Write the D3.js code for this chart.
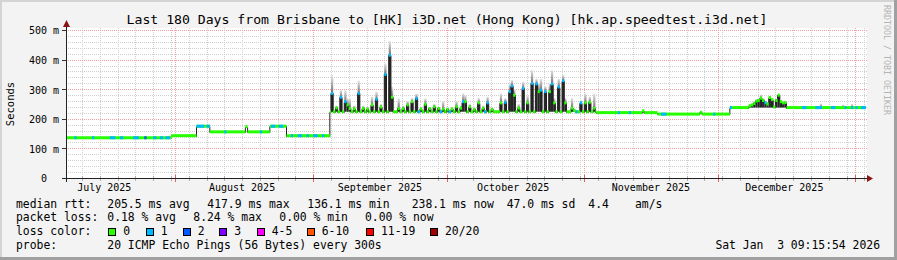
<!DOCTYPE html>
<html>
<head>
<meta charset="utf-8">
<script src="https://cdn.jsdelivr.net/npm/d3@7"></script>
<style>
body { margin: 0; background: #f3f3f3; }
text { font-family: "DejaVu Sans Mono", monospace; white-space: pre; }
</style>
</head>
<body>
<script>
// ---- data ----
const title = 'Last 180 Days from Brisbane to [HK] i3D.net (Hong Kong) [hk.ap.speedtest.i3d.net]';
const yTicks = [0, 100, 200, 300, 400, 500];
const yLabels = ['0', '100 m', '200 m', '300 m', '400 m', '500 m'];
const monthLabels = ['July 2025', 'August 2025', 'September 2025', 'October 2025', 'November 2025', 'December 2025'];
const monthLabelDates = ['2025-07-16 00', '2025-08-16 00', '2025-09-16 00', '2025-10-16 00', '2025-11-16 00', '2025-12-16 00'];

// baseline median steps [from, to, ms]
const levels = [
  ['2025-07-07 09', '2025-07-31 00', 136],
  ['2025-07-31 00', '2025-08-05 18', 143],
  ['2025-08-05 18', '2025-08-08 18', 175],
  ['2025-08-08 18', '2025-08-16 18', 156],
  ['2025-08-16 18', '2025-08-17 06', 174],
  ['2025-08-17 06', '2025-08-22 06', 156],
  ['2025-08-22 06', '2025-08-26 00', 175],
  ['2025-08-26 00', '2025-09-04 18', 143],
  ['2025-09-04 18', '2025-11-03 18', 224],
  ['2025-11-03 18', '2025-11-17 12', 221],
  ['2025-11-17 12', '2025-12-03 18', 216],
  ['2025-12-03 18', '2026-01-03 09', 238]
];

// 12h samples that leave the baseline [time, median ms, max ping ms, lost pings bucket]
const spikes = [
  ['2025-09-05 00', 286, 348, 1], ['2025-09-06 00', 237, 245, 0], ['2025-09-07 00', 273, 297, 1],
  ['2025-09-08 00', 258, 297, 1], ['2025-09-08 12', 247, 269, 0], ['2025-09-09 00', 235, 269, 0],
  ['2025-09-10 00', 234, 245, 0], ['2025-09-11 00', 286, 329, 1], ['2025-09-12 00', 235, 245, 0],
  ['2025-09-13 00', 233, 240, 0], ['2025-09-14 00', 247, 275, 0], ['2025-09-15 00', 266, 292, 1],
  ['2025-09-16 00', 240, 250, 0], ['2025-09-17 00', 350, 387, 1], ['2025-09-18 00', 415, 463, 1],
  ['2025-09-18 12', 273, 308, 0], ['2025-09-20 00', 235, 269, 0], ['2025-09-21 00', 235, 245, 0],
  ['2025-09-22 00', 247, 260, 0], ['2025-09-23 00', 258, 270, 0], ['2025-09-24 00', 269, 285, 1],
  ['2025-09-25 00', 233, 240, 0], ['2025-09-26 00', 249, 269, 0], ['2025-09-27 00', 235, 240, 0],
  ['2025-09-28 00', 241, 250, 0], ['2025-09-29 00', 235, 240, 0], ['2025-09-30 00', 233, 260, 0],
  ['2025-10-01 00', 232, 238, 0], ['2025-10-02 00', 233, 240, 0], ['2025-10-03 00', 241, 260, 0],
  ['2025-10-04 00', 236, 245, 0], ['2025-10-04 12', 258, 286, 1], ['2025-10-05 00', 258, 280, 0],
  ['2025-10-06 00', 241, 250, 0], ['2025-10-07 00', 232, 238, 0], ['2025-10-08 00', 254, 270, 0],
  ['2025-10-09 00', 236, 245, 0], ['2025-10-10 00', 254, 275, 1], ['2025-10-11 00', 232, 238, 0],
  ['2025-10-13 00', 254, 286, 0], ['2025-10-14 00', 256, 270, 1],
  ['2025-10-15 00', 292, 320, 1], ['2025-10-15 12', 311, 331, 1], ['2025-10-16 00', 280, 300, 0],
  ['2025-10-17 00', 236, 250, 0], ['2025-10-18 00', 303, 325, 1],
  ['2025-10-19 00', 254, 280, 0], ['2025-10-20 00', 320, 365, 1],
  ['2025-10-21 00', 318, 335, 1], ['2025-10-21 12', 292, 320, 0],
  ['2025-10-22 00', 297, 335, 1], ['2025-10-23 00', 292, 310, 1],
  ['2025-10-24 00', 292, 320, 0], ['2025-10-24 12', 318, 365, 1],
  ['2025-10-25 00', 254, 270, 0], ['2025-10-26 00', 308, 335, 1],
  ['2025-10-27 00', 329, 348, 1], ['2025-10-27 12', 254, 270, 0], ['2025-10-29 00', 236, 270, 0],
  ['2025-10-29 12', 228, 235, 0], ['2025-10-31 00', 254, 262, 1], ['2025-11-01 00', 254, 286, 0],
  ['2025-11-02 00', 256, 275, 0], ['2025-11-03 00', 236, 286, 0],
  ['2025-11-14 00', 227, 230, 0], ['2025-11-27 00', 222, 225, 0],
  ['2025-12-08 00', 244, 250, 0], ['2025-12-08 12', 247, 252, 0], ['2025-12-09 00', 252, 258, 0],
  ['2025-12-09 12', 260, 266, 0], ['2025-12-10 00', 262, 270, 0], ['2025-12-10 12', 270, 282, 0],
  ['2025-12-11 00', 262, 270, 0], ['2025-12-11 12', 254, 262, 1], ['2025-12-12 00', 250, 258, 0],
  ['2025-12-12 12', 272, 278, 0], ['2025-12-13 00', 265, 270, 0], ['2025-12-13 12', 240, 245, 0],
  ['2025-12-14 00', 262, 268, 0], ['2025-12-14 12', 280, 284, 0], ['2025-12-15 00', 258, 262, 0],
  ['2025-12-15 12', 254, 258, 0], ['2025-12-16 00', 255, 258, 0],
  ['2025-12-24 00', 238, 252, 1], ['2025-12-29 00', 238, 248, 0], ['2025-12-31 00', 238, 250, 1]
];

// stretches of the baseline with lost pings [from, to, bucket]
const lossRanges = [
  ['2025-07-09 06', '2025-07-09 18', 1], ['2025-07-13 06', '2025-07-13 18', 1],
  ['2025-07-17 06', '2025-07-18 12', 1], ['2025-07-19 12', '2025-07-20 06', 1],
  ['2025-07-22 12', '2025-07-23 18', 1], ['2025-07-25 00', '2025-07-25 12', 2],
  ['2025-07-27 00', '2025-07-27 18', 1], ['2025-07-28 12', '2025-07-29 06', 1],
  ['2025-07-29 18', '2025-07-30 18', 1], ['2025-08-05 18', '2025-08-07 12', 1],
  ['2025-08-08 00', '2025-08-08 18', 1], ['2025-08-12 00', '2025-08-12 12', 1],
  ['2025-08-20 00', '2025-08-20 12', 1], ['2025-08-22 12', '2025-08-23 12', 1],
  ['2025-08-24 06', '2025-08-25 06', 1], ['2025-08-27 00', '2025-08-27 12', 1],
  ['2025-08-28 12', '2025-08-29 12', 1], ['2025-08-30 12', '2025-08-31 00', 1],
  ['2025-09-01 00', '2025-09-02 00', 1], ['2025-09-03 00', '2025-09-03 12', 1],
  ['2025-09-24 12', '2025-09-25 00', 1], ['2025-09-29 12', '2025-09-30 00', 1],
  ['2025-10-01 12', '2025-10-02 00', 1], ['2025-10-09 12', '2025-10-10 00', 1],
  ['2025-10-30 00', '2025-10-30 12', 1], ['2025-11-08 12', '2025-11-09 00', 1],
  ['2025-11-11 00', '2025-11-11 12', 1], ['2025-11-18 06', '2025-11-19 12', 1],
  ['2025-11-30 00', '2025-11-30 12', 1], ['2025-12-03 18', '2025-12-04 06', 1],
  ['2025-12-20 00', '2025-12-21 00', 1], ['2025-12-23 00', '2025-12-24 00', 1],
  ['2025-12-26 12', '2025-12-27 12', 1], ['2025-12-29 12', '2025-12-30 00', 1],
  ['2026-01-01 00', '2026-01-01 12', 1], ['2026-01-02 06', '2026-01-03 09', 1]
];

const lossLabels = ['0', '1', '2', '3', '4-5', '6-10', '11-19', '20/20'];
const lossColors = ['#26ff00', '#00b8ff', '#0059ff', '#7e00ff', '#ff00ff', '#ff5500', '#ff0000', '#a10000'];

const rttStats = ['205.5 ms avg', '417.9 ms max', '136.1 ms min', '238.1 ms now', '47.0 ms sd', '4.4', 'am/s'];
const lossStats = ['0.18 % avg', '8.24 % max', '0.00 % min', '0.00 % now'];
const probeText = '20 ICMP Echo Pings (56 Bytes) every 300s';
const stamp = 'Sat Jan  3 09:15:54 2026';

// ---- chart ----
const W = 897, H = 260;
const parse = d3.timeParse('%Y-%m-%d %H');
const start = new Date(2025, 6, 7, 9, 15, 54),
      end = new Date(2026, 0, 3, 9, 15, 54);
const HALF = 12 * 3600e3;

const x = d3.scaleTime().domain([start, end]).range([66, 866]);
const y = d3.scaleLinear().domain([0, 507]).range([178, 28]);
const px = v => Math.round(v) + 0.5;

const svg = d3.select('body').append('svg')
    .attr('width', W)
    .attr('height', H);

svg.append('rect').attr('width', W).attr('height', H).attr('fill', '#f3f3f3');
svg.append('rect').attr('width', W).attr('height', 2).attr('fill', '#d4d4d4');
svg.append('rect').attr('width', 2).attr('height', H).attr('fill', '#d4d4d4');
svg.append('rect').attr('y', H - 3).attr('width', W).attr('height', 3).attr('fill', '#a0a0a0');
svg.append('rect').attr('x', W - 3).attr('width', 3).attr('height', H).attr('fill', '#a0a0a0');

svg.append('rect')
    .attr('x', 66).attr('y', 28)
    .attr('width', 801).attr('height', 150)
    .attr('fill', '#fff');

// grid
const grid = svg.append('g').attr('stroke-dasharray', '1,1').attr('stroke-width', 1);
const minorY = d3.range(20, 507, 20).filter(v => v % 100 !== 0);
grid.selectAll('.gy').data(minorY).enter().append('line')
    .attr('x1', 66).attr('x2', 867)
    .attr('y1', d => px(y(d))).attr('y2', d => px(y(d)))
    .attr('stroke', '#cfcfcf');
const minorX = d3.timeDay.range(parse('2025-07-11 00'), end, 4);
grid.selectAll('.gx').data(minorX).enter().append('line')
    .attr('x1', d => px(x(d))).attr('x2', d => px(x(d)))
    .attr('y1', 28).attr('y2', 178)
    .attr('stroke', '#cfcfcf');
const months = d3.timeMonth.range(start, end);
grid.selectAll('.mx').data(months).enter().append('line')
    .attr('x1', d => px(x(d))).attr('x2', d => px(x(d)))
    .attr('y1', 28).attr('y2', 178)
    .attr('stroke', '#f0a0a0');
grid.selectAll('.my').data(yTicks.slice(1)).enter().append('line')
    .attr('x1', 66).attr('x2', 867)
    .attr('y1', d => px(y(d))).attr('y2', d => px(y(d)))
    .attr('stroke', '#f0a0a0');

// steps of the median
const T = s => parse(s);
const spikeRows = spikes.map(([t, v, mx, loss]) => ({t0: T(t), t1: new Date(+T(t) + HALF), v, mx, loss}));
const levelAt = t => {
  const l = levels.find(l => T(l[0]) <= t && t < T(l[1]));
  return l ? l[2] : levels[levels.length - 1][2];
};
const steps = [];
levels.forEach(([a, b, v]) => {
  let cur = T(a);
  const stop = T(b);
  spikeRows.filter(s => s.t0 >= cur && s.t0 < stop).forEach(s => {
    if (s.t0 > cur) steps.push({t0: cur, t1: s.t0, v, loss: 0});
    steps.push(s);
    cur = s.t1;
  });
  if (cur < stop) steps.push({t0: cur, t1: stop, v, loss: 0});
});

const plot = svg.append('g');
plot.append('clipPath').attr('id', 'clip').append('rect')
    .attr('x', 66).attr('y', 28).attr('width', 801).attr('height', 150);
const area = plot.append('g').attr('clip-path', 'url(#clip)');

const grad = svg.append('defs').append('linearGradient')
    .attr('id', 'smoke').attr('x1', 0).attr('y1', 0).attr('x2', 0).attr('y2', 1);
grad.append('stop').attr('offset', '0%').attr('stop-color', '#e6e6e6');
grad.append('stop').attr('offset', '100%').attr('stop-color', '#6e6e6e');

// smoke above and below the median
area.selectAll('.smoke').data(spikeRows.filter(d => d.mx > d.v)).enter().append('rect')
    .attr('x', d => x(d.t0))
    .attr('width', d => x(d.t1) - x(d.t0))
    .attr('y', d => y(d.mx))
    .attr('height', d => y(d.v) - y(d.mx))
    .attr('fill', 'url(#smoke)');
area.selectAll('.dark').data(spikeRows.filter(d => d.v > levelAt(d.t0))).enter().append('rect')
    .attr('x', d => x(d.t0))
    .attr('width', d => x(d.t1) - x(d.t0))
    .attr('y', d => y(d.v))
    .attr('height', d => y(levelAt(d.t0)) - y(d.v))
    .attr('fill', '#262626');

// dark median line
const pts = steps.map(s => [s.t0, s.v]);
pts.push([steps[steps.length - 1].t1, steps[steps.length - 1].v]);
area.append('path')
    .attr('d', d3.line().x(d => x(d[0])).y(d => px(y(d[1]))).curve(d3.curveStepAfter)(pts))
    .attr('fill', 'none')
    .attr('stroke', '#202020')
    .attr('stroke-width', 1);

// loss coloured band on the median
const band = (sel, rows) => sel.selectAll(null).data(rows).enter().append('rect')
    .attr('x', d => x(d.t0))
    .attr('width', d => Math.max(1, x(d.t1) - x(d.t0)))
    .attr('y', d => y(d.v) - 1.5)
    .attr('height', 3)
    .attr('fill', d => lossColors[d.loss]);
band(area.append('g'), steps.filter(s => s.mx === undefined));
band(area.append('g'), lossRanges.map(([a, b, l]) => ({t0: T(a), t1: T(b), v: levelAt(T(a)), loss: l})));
band(area.append('g'), spikeRows);

// axes
const ax = svg.append('g');
ax.selectAll('.tx').data(minorX).enter().append('line')
    .attr('x1', d => px(x(d))).attr('x2', d => px(x(d)))
    .attr('y1', 176).attr('y2', 181).attr('stroke', '#b0b0b0');
ax.selectAll('.tm').data(months).enter().append('line')
    .attr('x1', d => px(x(d))).attr('x2', d => px(x(d)))
    .attr('y1', 175).attr('y2', 182).attr('stroke', '#e06060');
ax.selectAll('.ty').data(yTicks).enter().append('line')
    .attr('x1', 62).attr('x2', 66)
    .attr('y1', d => px(y(d))).attr('y2', d => px(y(d)))
    .attr('stroke', '#333');
ax.append('line').attr('x1', 62).attr('x2', 867).attr('y1', px(y(0))).attr('y2', px(y(0)))
    .attr('stroke', '#222');
ax.append('line').attr('x1', 66.5).attr('x2', 66.5).attr('y1', 25).attr('y2', 182)
    .attr('stroke', '#222');
ax.append('path').attr('d', 'M867,175 L873,178.5 L867,182 Z').attr('fill', '#8b1414');
ax.append('path').attr('d', 'M63,27 L66.5,20 L70,27 Z').attr('fill', '#8b1414');

svg.selectAll('.yl').data(yTicks).enter().append('text')
    .attr('x', (d, i) => yLabels[i].includes('m') ? 59 : 47)
    .attr('y', d => y(d) + 4.3)
    .attr('text-anchor', 'end')
    .attr('font-size', 10)
    .attr('fill', '#000')
    .text((d, i) => yLabels[i]);

svg.selectAll('.xl').data(monthLabels).enter().append('text')
    .attr('x', (d, i) => x(T(monthLabelDates[i])))
    .attr('y', 190.5)
    .attr('text-anchor', 'middle')
    .attr('font-size', 10)
    .text(d => d);

svg.append('text')
    .attr('transform', 'translate(14.3,104) rotate(-90)')
    .attr('text-anchor', 'middle')
    .attr('font-size', 10.5)
    .text('Seconds');

svg.append('text')
    .attr('x', 447).attr('y', 24)
    .attr('text-anchor', 'middle')
    .attr('font-size', 13.15)
    .text(title);

svg.append('text')
    .attr('transform', 'translate(884,5) rotate(90)')
    .attr('font-size', 8.3)
    .attr('fill', '#b4b4b4')
    .text('RRDTOOL / TOBI OETIKER');

// legend
const lf = 11.4;
const leg = svg.append('g').attr('font-size', lf);
leg.append('text').attr('x', 16).attr('y', 207.5).text('median rtt:');
const rttX = [107.3, 207.3, 307.3, 411.7, 506.7, 588.3, 635];
leg.selectAll('.r').data(rttStats).enter().append('text')
    .attr('x', (d, i) => rttX[i]).attr('y', 207.5).text(d => d);
leg.append('text').attr('x', 16).attr('y', 221.3).text('packet loss:');
const lossX = [107.3, 193.3, 279.3, 365];
leg.selectAll('.l').data(lossStats).enter().append('text')
    .attr('x', (d, i) => lossX[i]).attr('y', 221.3).text(d => d);
leg.append('text').attr('x', 16).attr('y', 235.3).text('loss color:');
const boxX = [108.3, 145.7, 182.7, 219.3, 256.7, 306.7, 366, 430];
leg.selectAll('.b').data(lossColors).enter().append('rect')
    .attr('x', (d, i) => Math.round(boxX[i]) + 0.5).attr('y', 228.5)
    .attr('width', 7).attr('height', 7)
    .attr('fill', d => d).attr('stroke', '#000');
leg.selectAll('.bl').data(lossLabels).enter().append('text')
    .attr('x', (d, i) => boxX[i] + 15).attr('y', 235.3).text(d => d);
leg.append('text').attr('x', 16).attr('y', 249).text('probe:');
leg.append('text').attr('x', 107.3).attr('y', 249).text(probeText);
leg.append('text').attr('x', 880).attr('y', 249).attr('text-anchor', 'end').text(stamp);
</script>
</body>
</html>
